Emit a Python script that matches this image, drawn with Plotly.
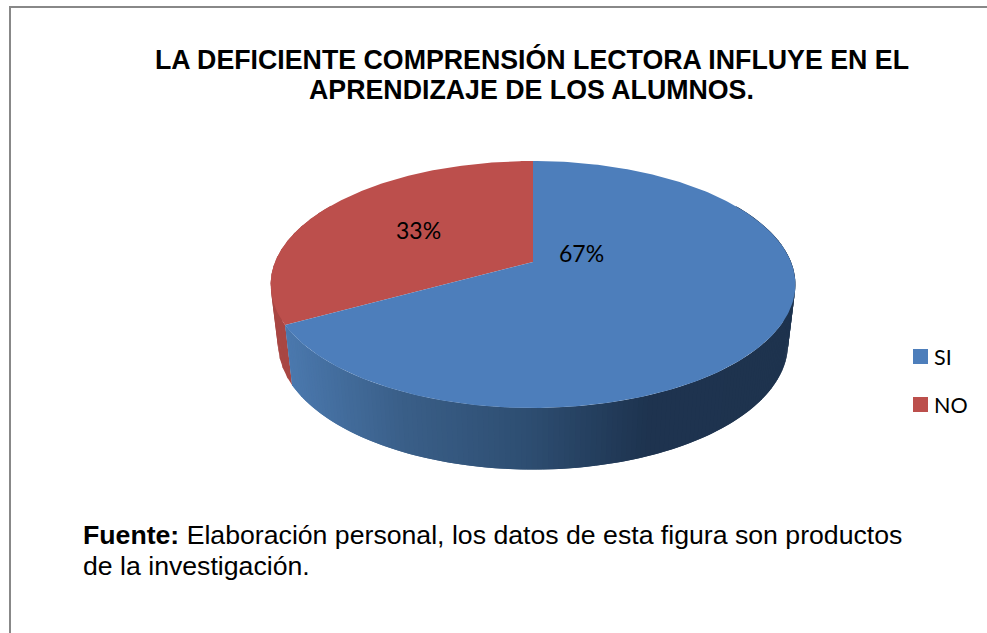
import numpy as np
import plotly.graph_objects as go

categories = ["SI", "NO"]
values = [67, 33]
top_colors = ["#4d7ebb", "#bc4f4c"]
title_lines = ["LA DEFICIENTE COMPRENSIÓN LECTORA INFLUYE EN EL", "APRENDIZAJE DE LOS ALUMNOS."]
source_lines = ["<b>Fuente:</b> Elaboración personal, los datos de esta figura son productos", "de la investigación."]

# side shading goes dark from left to right
shade_x = [285, 410, 533, 650, 800]
shade_r = [76, 58, 46, 30, 30]
shade_g = [122, 95, 78, 52, 51]
shade_b = [176, 136, 114, 80, 78]
RED_SIDE = "#a84643"

CX = 533
K = 0.1822  # perspective of the tilted disc


def project(deg, apex_y, a, b):
    # deg runs clockwise from 12 o'clock
    rad = np.radians(deg)
    den = 1 + K * np.cos(rad)
    return CX + a * np.sin(rad) / den, apex_y - b * np.cos(rad) / den


def top_face(deg):
    return project(deg, 262, 258, 119.4)


def bottom_face(deg):
    return project(deg, 321, 250.7, 121.5)


shares = np.array(values) / sum(values) * 360
edges = np.concatenate([[0], np.cumsum(shares)])

fig = go.Figure()


def add_poly(x, y, color):
    fig.add_trace(go.Scatter(x=x, y=y, mode="lines", fill="toself", fillcolor=color,
                             line=dict(color=color, width=0), hoverinfo="skip", showlegend=False))


def add_wall(a0, a1, color):
    arc = np.array([a0, a1])
    tx, ty = top_face(arc)
    bx, by = bottom_face(arc[::-1])
    add_poly(np.r_[tx, bx], np.r_[ty, by], color)


# side wall: each strip runs over the one before it so no seams show
STEP = 1.0
for a0 in np.arange(300, edges[1], -4.0):
    add_wall(max(a0 - 4.0, edges[1]), a0 + 1.0, RED_SIDE)
for a1 in np.arange(edges[1], 60, -STEP):
    a0 = a1 - STEP
    tx, _ = top_face(np.array([a0, a1]))
    bx, _ = bottom_face(np.array([a0, a1]))
    mid = (tx.mean() + bx.mean()) / 2
    col = "rgb(%d,%d,%d)" % (np.interp(mid, shade_x, shade_r), np.interp(mid, shade_x, shade_g),
                             np.interp(mid, shade_x, shade_b))
    add_wall(a0, min(a1 + STEP, edges[1]), col)

# top face, red first so the blue edge sits on it
for i in [1, 0]:
    x, y = top_face(np.linspace(edges[i], edges[i + 1], 240))
    add_poly(np.r_[CX, x, CX], np.r_[262, y, 262], top_colors[i])

# legend
fig.add_trace(go.Scatter(x=[920.5, 920.5], y=[356.5, 404.5], mode="markers",
                         marker=dict(symbol="square", size=15, color=top_colors, line=dict(width=0)),
                         hoverinfo="skip", showlegend=False))

annotations = []


def add_text(x, y, text, size, family, xanchor="center"):
    annotations.append(dict(x=x, y=y, xref="x", yref="y", text=text, showarrow=False, xanchor=xanchor,
                            yanchor="middle", align="left", font=dict(size=size, family=family, color="#000000")))


add_text(531.5, 59, "<b>%s</b>" % title_lines[0], 26.75, "Liberation Sans")
add_text(531.5, 90, "<b>%s</b>" % title_lines[1], 26.75, "Liberation Sans")
add_text(81, 535, source_lines[0], 26.67, "Liberation Sans", "left")
add_text(81, 566, source_lines[1], 26.67, "Liberation Sans", "left")
add_text(581, 253, "%d%%" % values[0], 23, "Lato")
add_text(418, 230, "%d%%" % values[1], 23, "Lato")
add_text(932, 357, categories[0], 21.5, "Lato", "left")
add_text(932, 405, categories[1], 21.5, "Lato", "left")

fig.update_layout(
    width=987, height=633,
    margin=dict(l=0, r=0, t=0, b=0),
    paper_bgcolor="white", plot_bgcolor="white",
    xaxis=dict(range=[0, 987], visible=False, fixedrange=True),
    yaxis=dict(range=[633, 0], visible=False, fixedrange=True),
    annotations=annotations,
    shapes=[dict(type="path", path="M 10 633 L 10 7 L 987 7", xref="x", yref="y",
                 line=dict(color="#888888", width=2))],
)

fig.write_html("out.html", config={"displayModeBar": False},
               post_script="document.body.style.margin='0';document.body.style.overflow='hidden';")
